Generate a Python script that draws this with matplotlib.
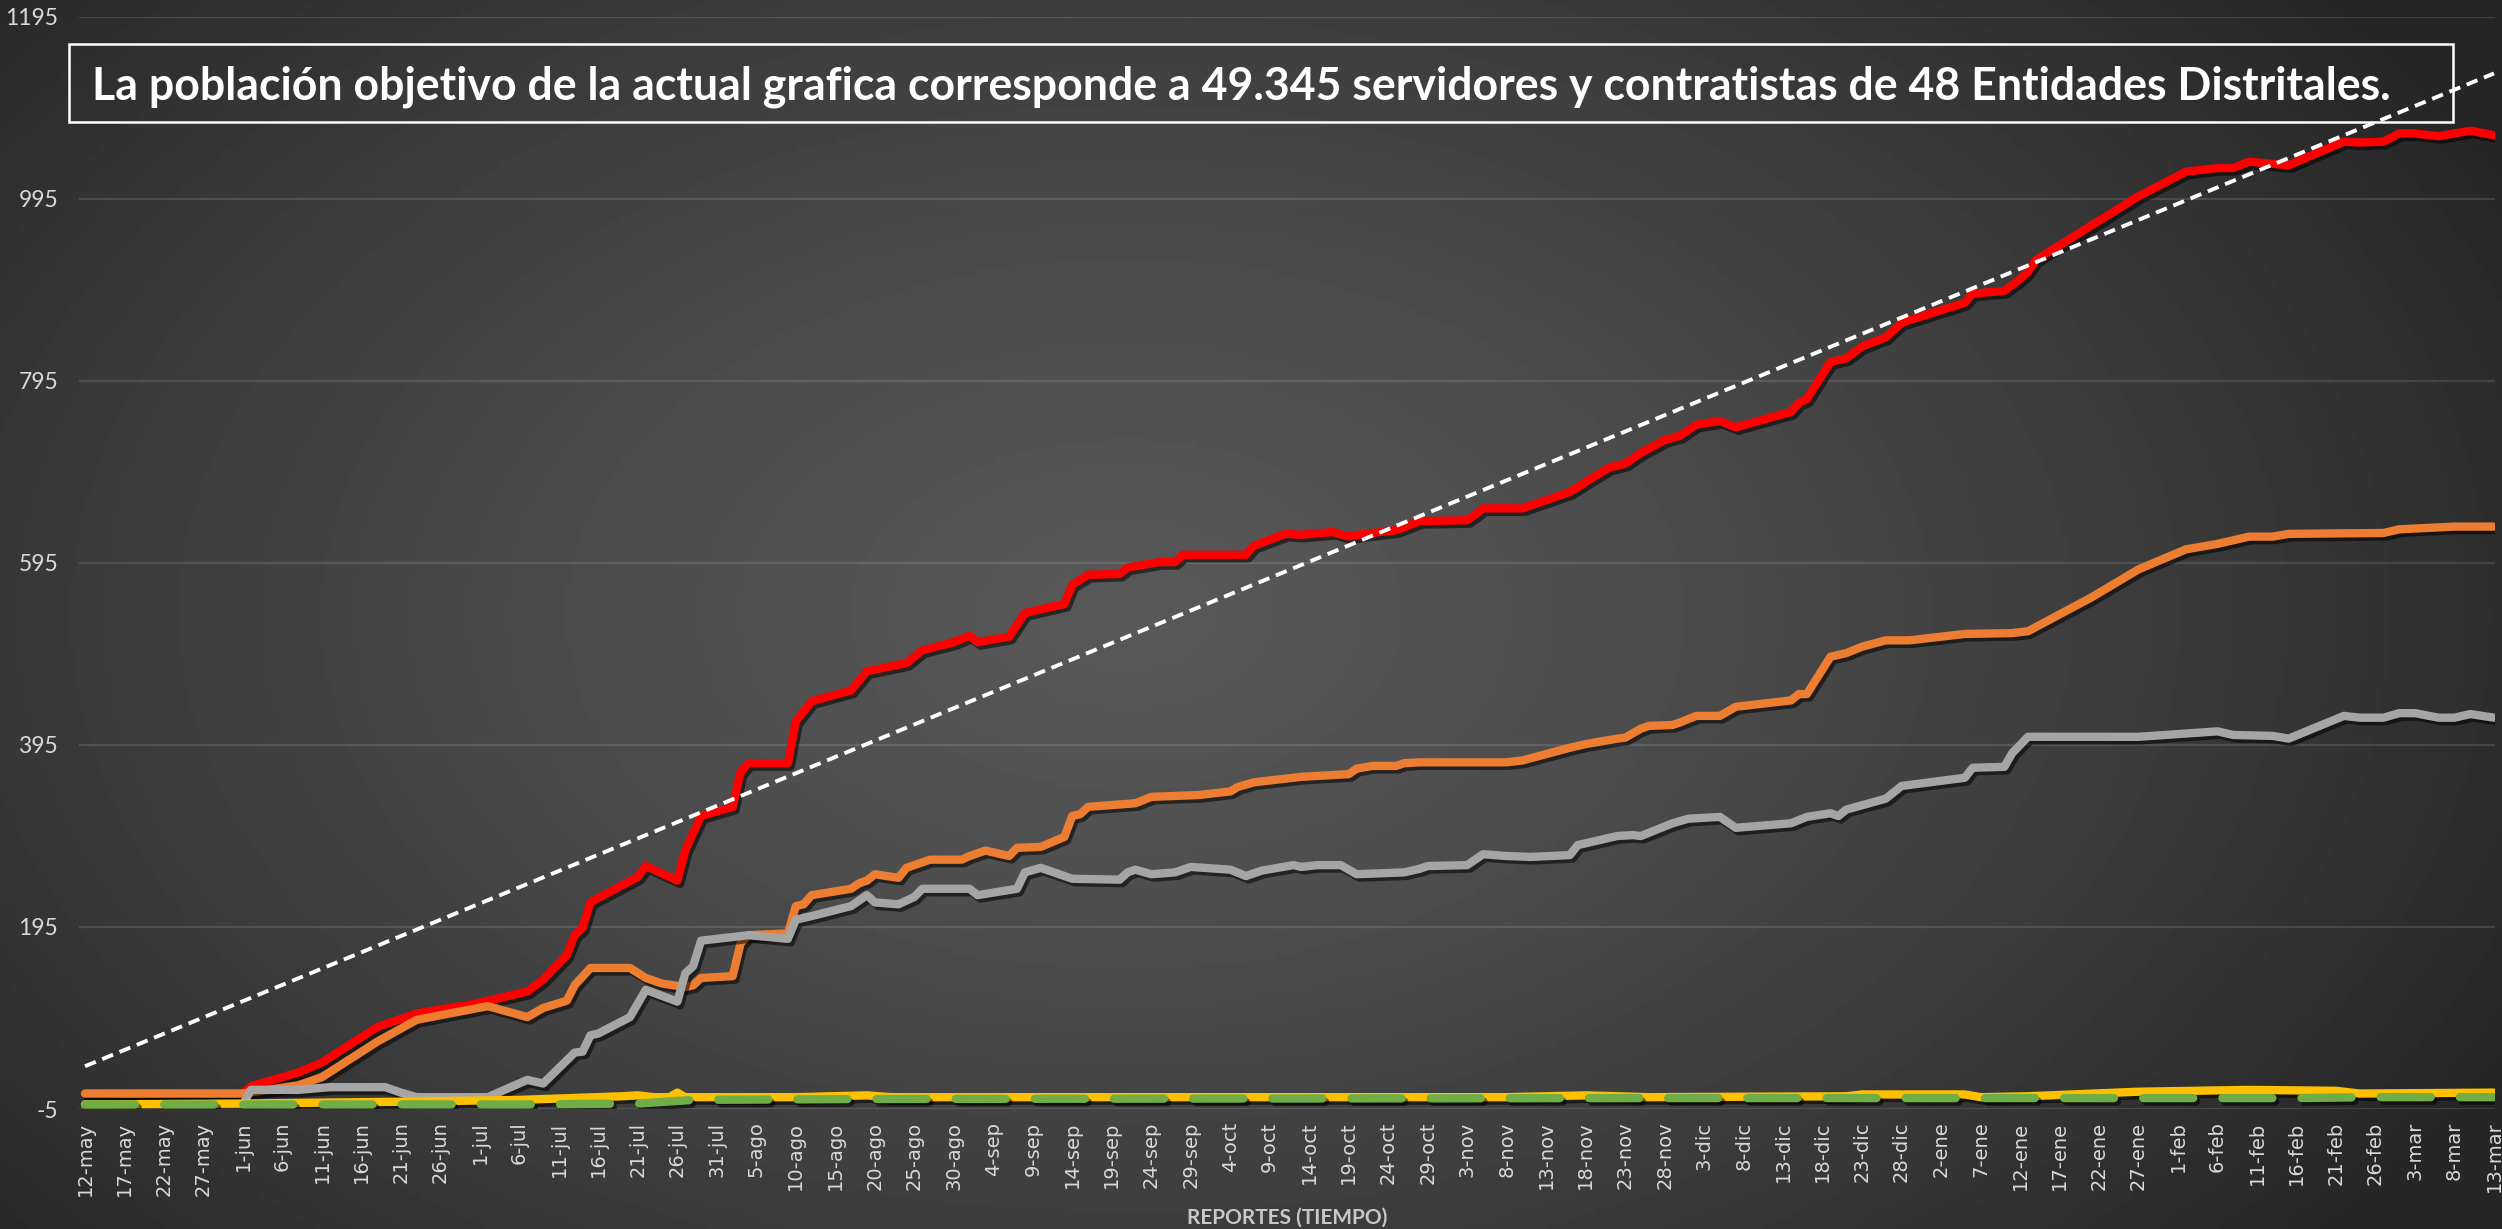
import numpy as np
import pandas as pd
import matplotlib
matplotlib.use("Agg")
import matplotlib.pyplot as plt
import matplotlib.patheffects as pe
from matplotlib.patches import Rectangle

# ---- datos (dias contados desde el 12-may) ----
fecha_inicio = "2020-05-12"
fecha_fin = "2021-03-13"
meses = {1: "ene", 2: "feb", 3: "mar", 4: "abr", 5: "may", 6: "jun",
         7: "jul", 8: "ago", 9: "sep", 10: "oct", 11: "nov", 12: "dic"}

rojo_dias = [0, 20, 21, 27, 30, 37, 42, 49, 56, 58, 61, 62, 63, 64, 65, 70, 71, 75, 76,
             78, 82, 83, 84, 89, 90, 92, 97, 99, 104, 106, 110, 112, 113, 117, 119, 124,
             125, 127, 131, 132, 136, 138, 139, 147, 148, 152, 154, 158, 160, 162, 166,
             169, 175, 176, 177, 182, 184, 188, 190, 193, 195, 197, 200, 202, 204, 207,
             209, 216, 217, 218, 221, 223, 225, 228, 230, 238, 239, 243, 245, 246, 247,
             260, 266, 270, 272, 274, 279, 286, 288, 291, 293, 295, 298, 302, 305]
rojo_valores = [12, 12, 20, 35, 46, 85, 100, 110, 124, 137, 164, 186, 194, 222, 227, 250,
                262, 246, 279, 317, 327, 365, 375, 375, 421, 443, 455, 476, 485, 499, 508,
                515, 508, 514, 540, 550, 571, 582, 583, 590, 596, 596, 604, 604, 614, 627,
                626, 629, 624, 627, 631, 641, 642, 648, 655, 655, 661, 673, 684, 700, 704,
                716, 730, 735, 747, 751, 744, 761, 771, 775, 816, 820, 833, 843, 859, 881,
                891, 894, 907, 915, 928, 998, 1025, 1029, 1029, 1036, 1032, 1058, 1057,
                1058, 1067, 1067, 1064, 1070, 1065]

naranja_dias = [0, 20, 27, 30, 37, 42, 51, 56, 58, 61, 62, 64, 69, 71, 73, 76, 77, 78, 82,
                83, 84, 89, 90, 91, 92, 97, 98, 99, 100, 103, 104, 107, 111, 112, 114, 117,
                118, 121, 124, 125, 126, 127, 133, 135, 141, 145, 146, 148, 154, 160, 161,
                163, 166, 167, 169, 180, 182, 185, 188, 190, 194, 195, 197, 198, 201, 202,
                204, 207, 209, 216, 217, 218, 221, 223, 225, 228, 231, 238, 244, 246, 254,
                260, 266, 270, 274, 277, 279, 291, 293, 300, 305]
naranja_valores = [12, 12, 21, 30, 69, 93, 108, 96, 106, 114, 131, 150, 150, 139, 133, 129,
                   131, 139, 141, 177, 186, 188, 218, 220, 230, 237, 243, 246, 253, 249, 260,
                   269, 269, 273, 279, 273, 282, 283, 294, 317, 319, 327, 331, 338, 340, 344,
                   349, 354, 360, 363, 369, 372, 372, 375, 376, 376, 378, 385, 392, 396, 402,
                   403, 413, 416, 417, 420, 427, 427, 437, 444, 451, 451, 492, 496, 503, 510,
                   510, 517, 518, 520, 557, 588, 610, 616, 624, 624, 627, 628, 632, 635, 635]

gris_dias = [0, 20, 21, 27, 31, 38, 40, 42, 51, 56, 58, 62, 63, 64, 65, 69, 70, 71, 75, 76,
             77, 78, 84, 89, 90, 92, 97, 99, 100, 103, 105, 106, 112, 113, 118, 119, 121,
             125, 131, 132, 133, 135, 138, 140, 145, 147, 149, 153, 154, 156, 159, 161, 167,
             169, 170, 175, 177, 180, 183, 188, 189, 194, 196, 197, 201, 203, 207, 209, 216,
             218, 221, 222, 223, 228, 230, 238, 239, 243, 244, 246, 260, 270, 272, 277, 279,
             286, 288, 291, 293, 295, 298, 300, 302, 305]
gris_valores = [0, 0, 16, 16, 19, 19, 13, 8, 8, 27, 23, 57, 58, 76, 78, 96, 111, 126, 113,
                144, 152, 180, 186, 182, 203, 207, 218, 230, 222, 220, 228, 237, 237, 230,
                237, 255, 260, 248, 247, 255, 258, 253, 255, 261, 258, 251, 257, 263, 261,
                263, 263, 253, 255, 259, 262, 263, 275, 273, 272, 274, 285, 295, 296, 295,
                309, 314, 316, 304, 309, 316, 320, 317, 324, 336, 350, 359, 370, 371, 386,
                404, 404, 410, 406, 405, 402, 427, 425, 425, 430, 430, 425, 425, 429, 425]

amarillo_dias = [0, 20, 40, 55, 68, 70, 72, 74, 75, 76, 90, 99, 102, 180, 190, 198, 223,
                 225, 238, 240, 246, 260, 274, 285, 288, 305]
amarillo_valores = [0, 1, 3, 5, 9, 10, 8, 8, 13, 8, 8, 10, 8, 8, 10, 8, 9, 11, 11, 8, 9,
                    14, 16, 15, 12, 13]

verde_dias = [0, 55, 70, 77, 100, 200, 280, 290, 305]
verde_valores = [0, 0, 1, 5, 6, 7, 7, 8, 8]

meta_dias = [0, 305]
meta_valores = [42, 1133]

y_ticks = [-5, 195, 395, 595, 795, 995, 1195]
titulo = ("La población objetivo de la actual grafica corresponde a 49.345 servidores "
          "y contratistas de 48 Entidades Distritales.")
titulo_eje_x = "REPORTES (TIEMPO)"

# ---- figura ----
W, H = 2502, 1229
fig = plt.figure(figsize=(W / 100, H / 100), dpi=100)

# fondo con degradado radial
bg = fig.add_axes([0, 0, 1, 1])
gx, gy = np.meshgrid(np.linspace(0, 1, 500), np.linspace(0, 1, 250))
r = np.sqrt(((gx - 0.45) / 0.62) ** 2 + ((gy - 0.5) / 0.8) ** 2)
grad = 0.345 - (0.345 - 0.15) * np.clip(r, 0, 1) ** 1.3
bg.imshow(grad, extent=[0, 1, 0, 1], aspect="auto", cmap="gray", vmin=0, vmax=1,
          origin="lower")
bg.axis("off")

ax = fig.add_axes([79 / W, 1 - 1109 / H, (2495 - 79) / W, (1109 - 17) / H])
ax.patch.set_alpha(0)
ax.set_xlim(-0.76, 305.13)
ax.set_ylim(-5, 1195)
for s in ax.spines.values():
    s.set_visible(False)

ax.set_yticks(y_ticks)
ax.set_yticklabels([str(v) for v in y_ticks], family=["Lato", "DejaVu Sans"])
ax.yaxis.grid(True, color="white", alpha=0.12, lw=1.6)
ax.set_axisbelow(True)

fechas = pd.date_range(fecha_inicio, fecha_fin, freq="5D")
tick_dias = (fechas - fechas[0]).days
ax.set_xticks(tick_dias)
ax.set_xticklabels([f"{f.day}-{meses[f.month]}" for f in fechas], rotation=90,
                   family="DejaVu Sans")
ax.tick_params(axis="y", length=0, pad=15, labelsize=16.5, labelcolor="#d9d9d9")
ax.tick_params(axis="x", length=0, pad=9, labelsize=14, labelcolor="#d9d9d9")

sombra = [pe.SimpleLineShadow(offset=(2, -2.5), shadow_color="black", alpha=0.55),
          pe.Normal()]


def linea(dias, vals, color, z, **kw):
    ax.plot(dias, vals, color=color, lw=6, solid_capstyle="round",
            solid_joinstyle="round", zorder=z, path_effects=sombra, **kw)


linea(rojo_dias, rojo_valores, "#ff0000", 3)
linea(naranja_dias, naranja_valores, "#ed7d31", 4)
linea(gris_dias, gris_valores, "#a5a5a5", 5)
linea(amarillo_dias, amarillo_valores, "#ffc000", 6)
linea(verde_dias, verde_valores, "#70ad47", 7, linestyle=(0, (6, 3.5)),
      dash_capstyle="round")

ax.plot(meta_dias, meta_valores, color="white", lw=2.8, linestyle=(0, (3, 1.8)),
        zorder=8)

# titulo en caja
t = fig.text(92 / W, 1 - 99 / H, titulo, fontsize=28, fontweight="bold", color="white",
             family=["Lato", "DejaVu Sans"], ha="left", va="baseline")
rend = fig.canvas.get_renderer()
ancho = t.get_window_extent(rend).width
t.set_fontsize(28 * 2297 / ancho)
fig.add_artist(Rectangle((69 / W, 1 - 122 / H), (2453 - 69) / W, 78 / H,
                         transform=fig.transFigure, fill=False, ec="white", lw=1.8))

fig.text(1287 / W, 1 - 1218 / H, titulo_eje_x, fontsize=15, fontweight="bold",
         color="#c8c8c8", family=["Lato", "DejaVu Sans"], ha="center", va="center")

fig.savefig("out.png", dpi=100)
